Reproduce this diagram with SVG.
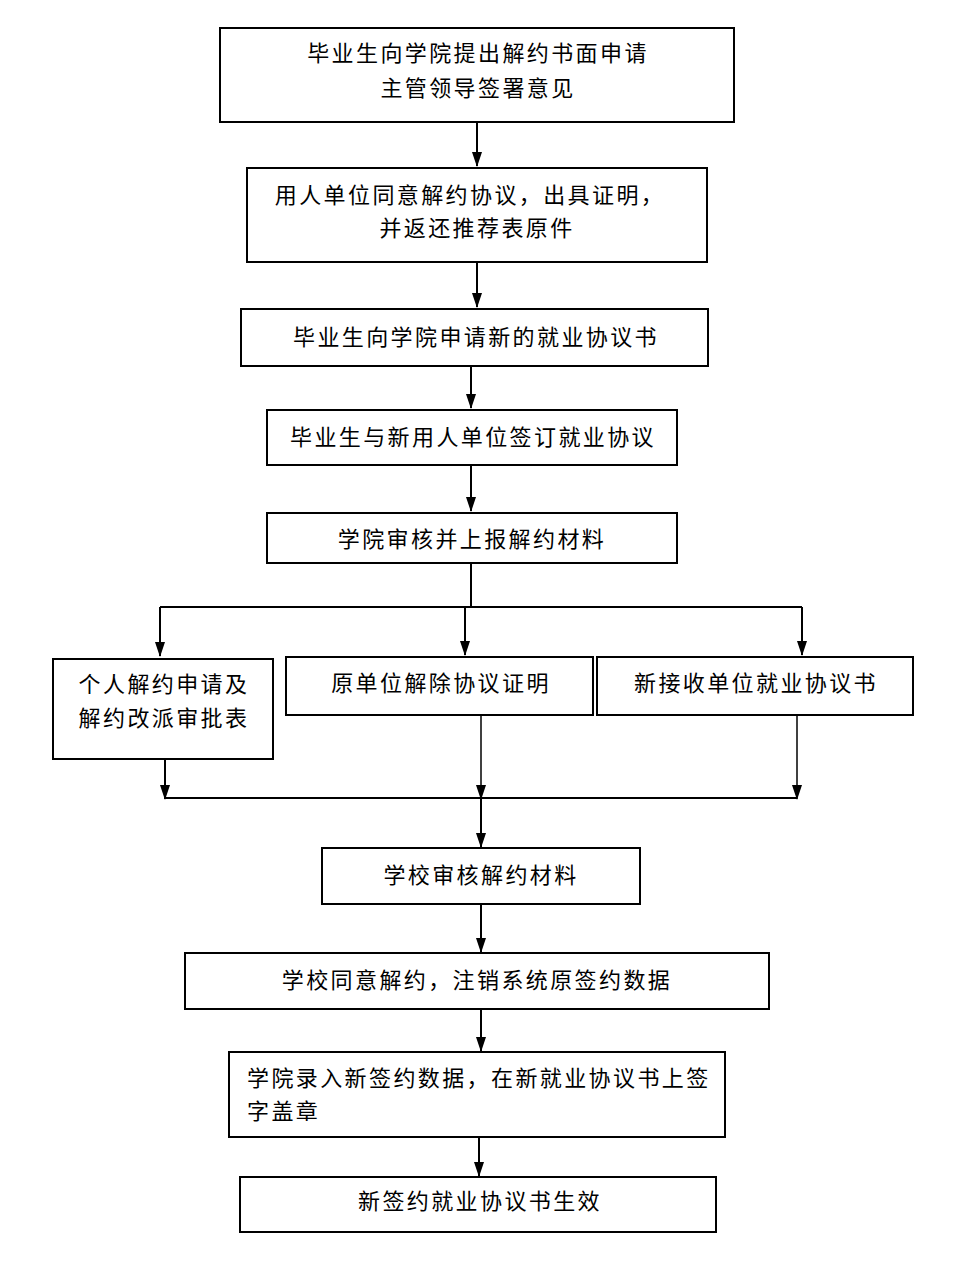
<svg xmlns="http://www.w3.org/2000/svg" width="978" height="1264" viewBox="0 0 978 1264">
<style>
.box{fill:#fff;stroke:#000;stroke-width:2}
.t{font-family:"Liberation Serif","Noto Sans CJK SC",serif;font-size:22px;fill:#000;letter-spacing:2.4px}
.c{text-anchor:middle}
.ln{stroke:#000;stroke-width:2;fill:none}
.thin{stroke:#000;stroke-width:1.5;fill:none}
</style>
<defs>
<marker id="ad" markerUnits="userSpaceOnUse" markerWidth="15" markerHeight="10" refX="14" refY="5" orient="auto" viewBox="0 0 15 10">
<path d="M0,0 L15,5 L0,10 Z" fill="#000"/>
</marker>
</defs>
<rect width="978" height="1264" fill="#fff"/>
<g id="connectors">
<line class="ln" x1="477" y1="122" x2="477" y2="166" marker-end="url(#ad)"/>
<line class="ln" x1="477" y1="262" x2="477" y2="307" marker-end="url(#ad)"/>
<line class="ln" x1="471" y1="366" x2="471" y2="408" marker-end="url(#ad)"/>
<line class="ln" x1="471" y1="465" x2="471" y2="511" marker-end="url(#ad)"/>
<line class="ln" x1="471" y1="563" x2="471" y2="607"/>
<line class="ln" x1="160" y1="607" x2="802" y2="607"/>
<line class="ln" x1="160" y1="607" x2="160" y2="656" marker-end="url(#ad)"/>
<line class="ln" x1="465" y1="607" x2="465" y2="655" marker-end="url(#ad)"/>
<line class="ln" x1="802" y1="607" x2="802" y2="655" marker-end="url(#ad)"/>
<line class="ln" x1="165" y1="759" x2="165" y2="799" marker-end="url(#ad)"/>
<line class="thin" x1="481" y1="713" x2="481" y2="799" marker-end="url(#ad)"/>
<line class="thin" x1="797" y1="713" x2="797" y2="799" marker-end="url(#ad)"/>
<line class="ln" x1="165" y1="798" x2="797" y2="798"/>
<line class="ln" x1="481" y1="798" x2="481" y2="847" marker-end="url(#ad)"/>
<line class="ln" x1="481" y1="904" x2="481" y2="952" marker-end="url(#ad)"/>
<line class="ln" x1="481" y1="1009" x2="481" y2="1051" marker-end="url(#ad)"/>
<line class="ln" x1="479" y1="1137" x2="479" y2="1176" marker-end="url(#ad)"/>
</g>
<g id="n1"><rect class="box" x="220" y="28" width="514" height="94"/>
<text class="t c" x="478" y="61">毕业生向学院提出解约书面申请</text>
<text class="t c" x="478" y="96">主管领导签署意见</text></g>
<g id="n2"><rect class="box" x="247" y="168" width="460" height="94"/>
<text class="t c" x="470" y="203">用人单位同意解约协议，出具证明，</text>
<text class="t c" x="477" y="236">并返还推荐表原件</text></g>
<g id="n3"><rect class="box" x="241" y="309" width="467" height="57"/>
<text class="t c" x="476" y="345">毕业生向学院申请新的就业协议书</text></g>
<g id="n4"><rect class="box" x="267" y="410" width="410" height="55"/>
<text class="t c" x="473" y="445">毕业生与新用人单位签订就业协议</text></g>
<g id="n5"><rect class="box" x="267" y="513" width="410" height="50"/>
<text class="t c" x="472" y="547">学院审核并上报解约材料</text></g>
<g id="n6"><rect class="box" x="53" y="659" width="220" height="100"/>
<text class="t c" x="164" y="692">个人解约申请及</text>
<text class="t c" x="164" y="726">解约改派审批表</text></g>
<g id="n7"><rect class="box" x="286" y="657" width="307" height="58"/>
<text class="t c" x="441" y="691">原单位解除协议证明</text></g>
<g id="n8"><rect class="box" x="597" y="657" width="316" height="58"/>
<text class="t c" x="756" y="691">新接收单位就业协议书</text></g>
<g id="n9"><rect class="box" x="322" y="848" width="318" height="56"/>
<text class="t c" x="481" y="883">学校审核解约材料</text></g>
<g id="n10"><rect class="box" x="185" y="953" width="584" height="56"/>
<text class="t c" x="477" y="988">学校同意解约，注销系统原签约数据</text></g>
<g id="n11"><rect class="box" x="229" y="1052" width="496" height="85"/>
<text class="t" x="247" y="1086">学院录入新签约数据，在新就业协议书上签</text>
<text class="t" x="247" y="1119">字盖章</text></g>
<g id="n12"><rect class="box" x="240" y="1177" width="476" height="55"/>
<text class="t c" x="480" y="1209">新签约就业协议书生效</text></g>
</svg>
